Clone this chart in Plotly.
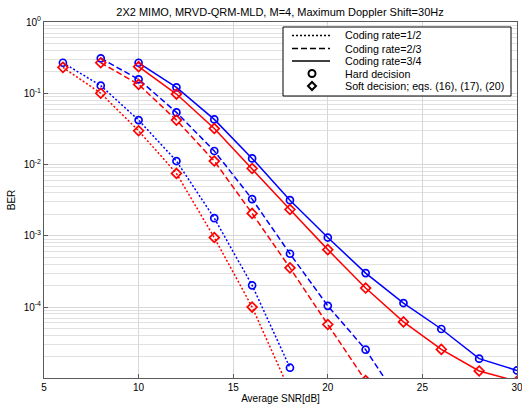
import plotly.graph_objects as go

snr_r12 = [6, 8, 10, 12, 14, 16, 18]
hard_r12 = [0.268, 0.128, 0.042, 0.0112, 0.00177, 2.02e-4, 1.41e-5]
soft_r12 = [0.231, 0.100, 0.0298, 0.0075, 0.000946, 1.0e-4, 6.6e-6]

snr_r23 = [8, 10, 12, 14, 16, 18, 20, 22, 24]
hard_r23 = [0.309, 0.157, 0.0539, 0.0155, 0.00327, 5.6e-4, 1.04e-4, 2.53e-5, 4.0e-6]
soft_r23 = [0.268, 0.133, 0.042, 0.0112, 0.00206, 3.55e-4, 5.7e-5, 9.3e-6, 1.5e-6]

snr_r34 = [10, 12, 14, 16, 18, 20, 22, 24, 26, 28, 30]
hard_r34 = [0.268, 0.121, 0.043, 0.0122, 0.00316, 9.46e-4, 3.0e-4, 1.14e-4, 4.93e-5, 1.89e-5, 1.29e-5]
soft_r34 = [0.236, 0.0975, 0.032, 0.0088, 0.00234, 6.4e-4, 1.85e-4, 6.2e-5, 2.55e-5, 1.27e-5, 9.1e-6]

y_tickvals = [1, 1e-1, 1e-2, 1e-3, 1e-4]
y_ticktext = ["10<sup>0</sup>", "10<sup>-1</sup>", "10<sup>-2</sup>", "10<sup>-3</sup>", "10<sup>-4</sup>"]
x_tickvals = [5, 10, 15, 20, 25, 30]

legend_labels = ["Coding rate=1/2", "Coding rate=2/3", "Coding rate=3/4",
                 "Hard decision", "Soft decision; eqs. (16), (17), (20)"]

BLUE = "rgb(0,0,255)"
RED = "rgb(255,0,0)"
DOT = "2px,2px"
DASH = "6px,3px"

W, H = 522, 406
ML, MR, MT, MB = 44, 5, 22, 28
PW, PH = W - ML - MR, H - MT - MB


def px(xp):
    return (xp - ML) / PW


def py(yp):
    return 1 - (yp - MT) / PH


fig = go.Figure()

series = [
    (snr_r12, hard_r12, BLUE, DOT, "circle-open"),
    (snr_r12, soft_r12, RED, DOT, "diamond-open"),
    (snr_r23, hard_r23, BLUE, DASH, "circle-open"),
    (snr_r23, soft_r23, RED, DASH, "diamond-open"),
    (snr_r34, hard_r34, BLUE, "solid", "circle-open"),
    (snr_r34, soft_r34, RED, "solid", "diamond-open"),
]
for x, y, c, d, m in series:
    fig.add_trace(go.Scatter(
        x=x, y=y, mode="lines+markers", showlegend=False, cliponaxis=True,
        line=dict(color=c, width=1.5, dash=d),
        marker=dict(symbol=m, size=7 if m.startswith("circle") else 7.5,
                    color=c, line=dict(width=1.7, color=c)),
    ))

# ---- manual legend (compact, MATLAB-like) ----
shapes = []
annotations = []
shapes.append(dict(type="rect", xref="paper", yref="paper", layer="above",
                   x0=px(283), x1=px(511), y0=py(96), y1=py(27),
                   fillcolor="white", line=dict(color="black", width=1)))
rows = [35.5, 48.5, 61, 73.5, 86]
for r, d in zip(rows[:3], [DOT, DASH, "solid"]):
    shapes.append(dict(type="line", xref="paper", yref="paper", layer="above",
                       x0=px(292), x1=px(330), y0=py(r), y1=py(r),
                       line=dict(color="black", width=1.5, dash=d)))
# circle marker
shapes.append(dict(type="circle", xref="paper", yref="paper", layer="above",
                   xsizemode="pixel", ysizemode="pixel",
                   xanchor=px(312), yanchor=py(rows[3]),
                   x0=-3.5, x1=3.5, y0=-3.5, y1=3.5,
                   line=dict(color="black", width=2)))
# diamond marker
shapes.append(dict(type="path", xref="paper", yref="paper", layer="above",
                   xsizemode="pixel", ysizemode="pixel",
                   xanchor=px(312), yanchor=py(rows[4]),
                   path="M -4 0 L 0 4 L 4 0 L 0 -4 Z",
                   line=dict(color="black", width=2)))
for r, lbl in zip(rows, legend_labels):
    annotations.append(dict(xref="paper", yref="paper", x=px(343), y=py(r),
                            xanchor="left", yanchor="middle", showarrow=False,
                            text=lbl, font=dict(size=10.7, color="black")))

font = "Liberation Sans, Arial, sans-serif"
fig.update_layout(
    width=W, height=H,
    margin=dict(l=ML, r=MR, t=MT, b=MB, autoexpand=False),
    paper_bgcolor="white", plot_bgcolor="white",
    font=dict(family=font, size=10, color="black"),
    title=dict(text="2X2 MIMO, MRVD-QRM-MLD, M=4, Maximum Doppler Shift=30Hz",
               x=px(280), xanchor="center", xref="paper", y=1 - 12 / H, yanchor="middle",
               font=dict(size=11)),
    showlegend=False,
    shapes=shapes,
    annotations=annotations,
)
fig.update_xaxes(
    range=[5, 30], tickvals=x_tickvals, showgrid=True, automargin=False,
    gridcolor="rgb(215,215,215)", gridwidth=1,
    showline=True, linecolor="rgb(90,90,90)", linewidth=1, mirror=True,
    ticks="inside", ticklen=4, tickcolor="rgb(90,90,90)", zeroline=False,
    ticklabeloverflow="allow",
    title=dict(text="Average SNR[dB]", standoff=2, font=dict(size=10)),
)
fig.update_yaxes(
    type="log", range=[-4.995, 0], tickvals=y_tickvals, ticktext=y_ticktext,
    showgrid=True, gridcolor="rgb(215,215,215)", gridwidth=1, automargin=False,
    minor=dict(showgrid=True, gridcolor="rgb(225,225,225)", dtick="D1", ticks=""),
    showline=True, linecolor="rgb(90,90,90)", linewidth=1, mirror=True,
    ticks="inside", ticklen=4, tickcolor="rgb(90,90,90)", zeroline=False,
    title=dict(text="BER", standoff=6, font=dict(size=10)),
)

fig.write_html("out.html")
